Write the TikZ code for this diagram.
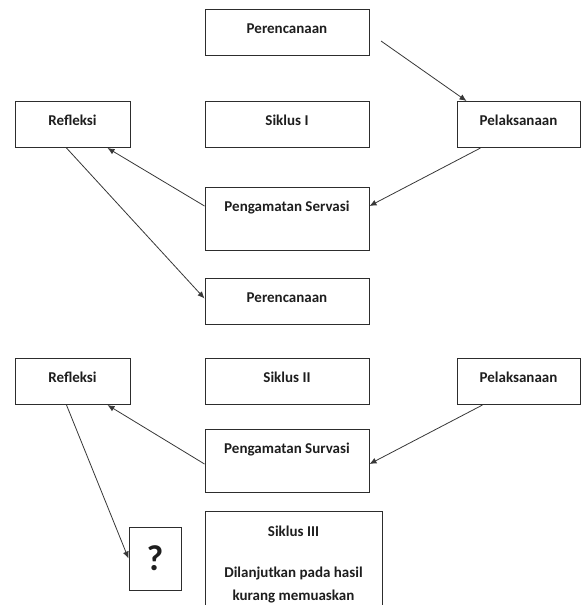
\documentclass[tikz,border=0pt]{standalone}
\usepackage{fontspec}
\setmainfont{Carlito}
\usetikzlibrary{arrows,arrows.meta,positioning}
\definecolor{boxcolor}{RGB}{45,45,45}
\definecolor{arrowcolor}{RGB}{55,55,55}
\definecolor{textcolor}{RGB}{30,30,30}

\begin{document}
\begin{tikzpicture}[x=1pt, y=-1pt,
  box/.style={draw=boxcolor, line width=1pt, inner xsep=0pt, inner ysep=0pt,
    text height=24pt, text depth=22pt, align=center, anchor=north,
    font=\fontsize{15}{23}\selectfont\bfseries, text=textcolor},
  tallbox/.style={box, text depth=39pt},
  flow/.style={-{Latex[length=7pt,width=6pt]}, draw=arrowcolor, line width=0.8pt}]
  % Page frame
  \useasboundingbox (0,0) rectangle (581,605);
  \clip (0,0) rectangle (581,605);

  % Siklus I
  \node[box, minimum width=164pt] (pr1) at (287,9) {Perencanaan};
  \node[box, minimum width=115pt] (ref1) at (72.5,101) {Refleksi};
  \node[box, minimum width=164pt] (sik1) at (287,101) {Siklus I};
  \node[box, minimum width=123pt] (pel1) at (518.5,101) {Pelaksanaan};
  \node[tallbox, minimum width=164pt] (pen1) at (287,187) {Pengamatan Servasi};

  % Siklus II
  \node[box, minimum width=164pt] (pr2) at (287,278) {Perencanaan};
  \node[box, minimum width=115pt] (ref2) at (72.5,358) {Refleksi};
  \node[box, minimum width=164pt] (sik2) at (287,358) {Siklus II};
  \node[box, minimum width=123pt] (pel2) at (518.5,358) {Pelaksanaan};
  \node[tallbox, minimum width=164pt] (pen2) at (287,429) {Pengamatan Survasi};

  % Siklus III
  \node[box, minimum width=52pt, minimum height=63pt, anchor=center, text height=, text depth=,
    font=\fontsize{36}{36}\selectfont\bfseries] (q) at (155,558.5) {?};
  \node[box, minimum width=177pt, text height=89pt, text depth=20pt] (sik3) at (293.5,511)
    {Siklus III\\[18pt]Dilanjutkan pada hasil\\kurang memuaskan};

  % Arrows of cycle I
  \coordinate (start) at (381,41);
  \draw[flow] (start) -- ([xshift=10pt]pel1.north west);
  \draw[flow] ([xshift=24pt]pel1.south west) -- ([yshift=-19pt]pen1.north east);
  \draw[flow] ([yshift=-19pt]pen1.north west) -- ([xshift=-23pt]ref1.south east);
  \draw[flow] ([xshift=52pt]ref1.south west) -- ([yshift=3pt]pr2.west);

  % Arrows of cycle II
  \draw[flow] ([xshift=26pt]pel2.south west) -- ([yshift=-35pt]pen2.north east);
  \draw[flow] ([yshift=-35pt]pen2.north west) -- ([xshift=-23pt]ref2.south east);
  \draw[flow] ([xshift=52pt]ref2.south west) -- (q.west);
\end{tikzpicture}
\end{document}
